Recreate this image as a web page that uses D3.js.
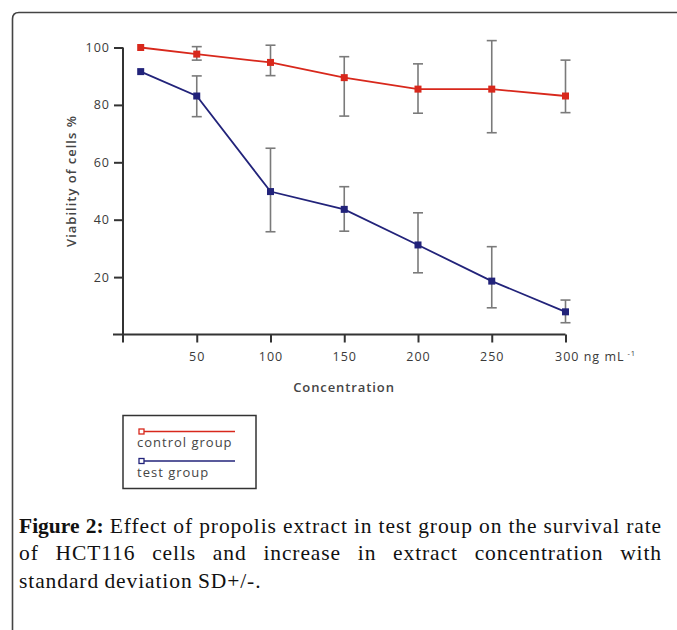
<!DOCTYPE html>
<html>
<head>
<meta charset="utf-8">
<script src="https://cdn.jsdelivr.net/npm/d3@7"></script>
<style>
  html, body { margin: 0; padding: 0; background: #fff; }
  svg { display: block; }
</style>
</head>
<body>
<svg id="chart" width="677" height="630"></svg>
<script>
// ---- data ----
const concentrations = [12, 50, 100, 150, 200, 250, 300];
const controlMean = [100, 97.7, 94.8, 89.5, 85.5, 85.5, 83.1];
const controlUpper = [null, 100.3, 100.8, 96.8, 94.3, 102.4, 95.6];
const controlLower = [null, 95.6, 90.2, 76.1, 77.1, 70.3, 77.3];
const testMean = [91.6, 83.1, 49.8, 43.6, 31.2, 18.6, 7.9];
const testUpper = [null, 90.1, 64.9, 51.5, 42.4, 30.6, 12.0];
const testLower = [null, 75.9, 35.8, 36.0, 21.5, 9.3, 4.1];
const xTicks = [50, 100, 150, 200, 250, 300];
const xTickLabels = ["50", "100", "150", "200", "250", "300 ng mL"];
const yTicks = [20, 40, 60, 80, 100];
const seriesNames = ["control group", "test group"];
const seriesColors = ["#d8281c", "#22237a"];
const captionLines = [
  [["Figure 2:", true], ["Effect of propolis extract in test group on the survival rate", false]],
  [["of HCT116 cells and increase in extract concentration with", false]],
  [["standard deviation SD+/-.", false]]
];

const svg = d3.select("#chart");

// frame
svg.append("path")
  .attr("d", "M12.5,640 L12.5,19 Q12.5,12.5 19,12.5 L690,12.5")
  .attr("fill", "none").attr("stroke", "#444").attr("stroke-width", 1.6);

const x = d3.scaleLinear().domain([0, 300]).range([123, 565.5]);
const y = d3.scaleLinear().domain([0, 100]).range([334.5, 47.5]);

const axisColor = "#333";
const font = "'Open Sans', 'DejaVu Sans', sans-serif";

// y axis
const yAxis = svg.append("g").attr("transform", "translate(123,0)")
  .call(d3.axisLeft(y).tickValues(yTicks).tickSize(9).tickPadding(4).tickSizeOuter(0));
yAxis.select(".domain").attr("d", `M0,${y(100)}V${y(0) + 8}`);
// x axis
const xAxis = svg.append("g").attr("transform", `translate(0,${y(0)})`)
  .call(d3.axisBottom(x).tickValues(xTicks).tickSize(8).tickPadding(10)
    .tickFormat((d, i) => xTickLabels[i]).tickSizeOuter(0));
xAxis.select(".domain").attr("d", `M${x(0) - 10},0H${x(300)}`);

[yAxis, xAxis].forEach(g => {
  g.select(".domain").attr("stroke", axisColor).attr("stroke-width", 2);
  g.selectAll(".tick line").attr("stroke", axisColor).attr("stroke-width", 2);
  g.selectAll(".tick text").attr("fill", "#3a3a3a").attr("font-family", font)
    .attr("font-size", 12.5).attr("letter-spacing", 1);
});
xAxis.selectAll(".tick text").filter(d => d === 300)
  .attr("text-anchor", "start").attr("dx", -11)
  .append("tspan").attr("dy", -5).attr("font-size", 7.5).text(" -1");

// axis titles
svg.append("text")
  .attr("transform", `translate(76,181) rotate(-90)`)
  .attr("text-anchor", "middle").attr("font-family", font).attr("font-size", 13)
  .attr("font-weight", "600").attr("letter-spacing", 1).attr("fill", "#454545")
  .text("Viability of cells %");
svg.append("text")
  .attr("x", 344).attr("y", 392).attr("text-anchor", "middle")
  .attr("font-family", font).attr("font-size", 13).attr("font-weight", "600")
  .attr("letter-spacing", 0.9).attr("fill", "#454545").text("Concentration");

// series
const series = [
  { mean: controlMean, up: controlUpper, lo: controlLower, color: seriesColors[0] },
  { mean: testMean, up: testUpper, lo: testLower, color: seriesColors[1] }
];
const line = d3.line().x(d => x(d[0])).y(d => y(d[1]));

series.forEach(s => {
  const pts = concentrations.map((c, i) => [c, s.mean[i], s.up[i], s.lo[i]]);
  const eb = svg.append("g").attr("stroke", "#7a7a7a").attr("stroke-width", 1.6);
  pts.filter(p => p[2] != null).forEach(p => {
    eb.append("line").attr("x1", x(p[0])).attr("x2", x(p[0])).attr("y1", y(p[2])).attr("y2", y(p[3]));
    eb.append("line").attr("x1", x(p[0]) - 5).attr("x2", x(p[0]) + 5).attr("y1", y(p[2])).attr("y2", y(p[2]));
    eb.append("line").attr("x1", x(p[0]) - 5).attr("x2", x(p[0]) + 5).attr("y1", y(p[3])).attr("y2", y(p[3]));
  });
  svg.append("path").datum(pts).attr("d", line)
    .attr("fill", "none").attr("stroke", s.color).attr("stroke-width", 1.8);
  svg.append("g").selectAll("rect").data(pts).join("rect")
    .attr("x", d => x(d[0]) - 3.5).attr("y", d => y(d[1]) - 3.5)
    .attr("width", 7).attr("height", 7).attr("fill", s.color);
});

// legend
const lg = svg.append("g");
lg.append("rect").attr("x", 123).attr("y", 415.5).attr("width", 133).attr("height", 73)
  .attr("fill", "#fff").attr("stroke", "#333").attr("stroke-width", 1.5);
seriesNames.forEach((name, i) => {
  const ly = 431.5 + i * 29.5;
  lg.append("line").attr("x1", 139).attr("x2", 235).attr("y1", ly).attr("y2", ly)
    .attr("stroke", seriesColors[i]).attr("stroke-width", 1.5);
  lg.append("rect").attr("x", 139).attr("y", ly - 2.5).attr("width", 5).attr("height", 5)
    .attr("fill", "#fff").attr("stroke", seriesColors[i]).attr("stroke-width", 1.3);
  lg.append("text").attr("x", 137).attr("y", ly + 15.5).attr("font-family", font)
    .attr("font-size", 13).attr("letter-spacing", 1).attr("fill", "#454545").text(name);
});

// caption (justified manually, word by word)
const capFont = "'Liberation Serif', 'Times New Roman', serif";
const capLeft = 19, capRight = 662, capSize = 21.5;
const baselines = [532.5, 560, 587.5];
captionLines.forEach((segs, li) => {
  const words = [];
  segs.forEach(([txt, bold]) => txt.split(" ").forEach(w => words.push({ w, bold })));
  const g = svg.append("g");
  const nodes = words.map(d => g.append("text")
    .attr("font-family", capFont).attr("font-size", capSize)
    .attr("font-weight", d.bold ? "bold" : "normal").attr("fill", "#111")
    .attr("letter-spacing", d.bold ? 0 : 0.9)
    .attr("y", baselines[li]).text(d.w));
  const widths = nodes.map(n => n.node().getComputedTextLength());
  const total = d3.sum(widths);
  const justify = li < captionLines.length - 1;
  const gap = justify ? (capRight - capLeft - total) / (words.length - 1) : capSize * 0.25;
  let cx = capLeft;
  nodes.forEach((n, i) => { n.attr("x", cx); cx += widths[i] + gap; });
});
</script>
</body>
</html>
